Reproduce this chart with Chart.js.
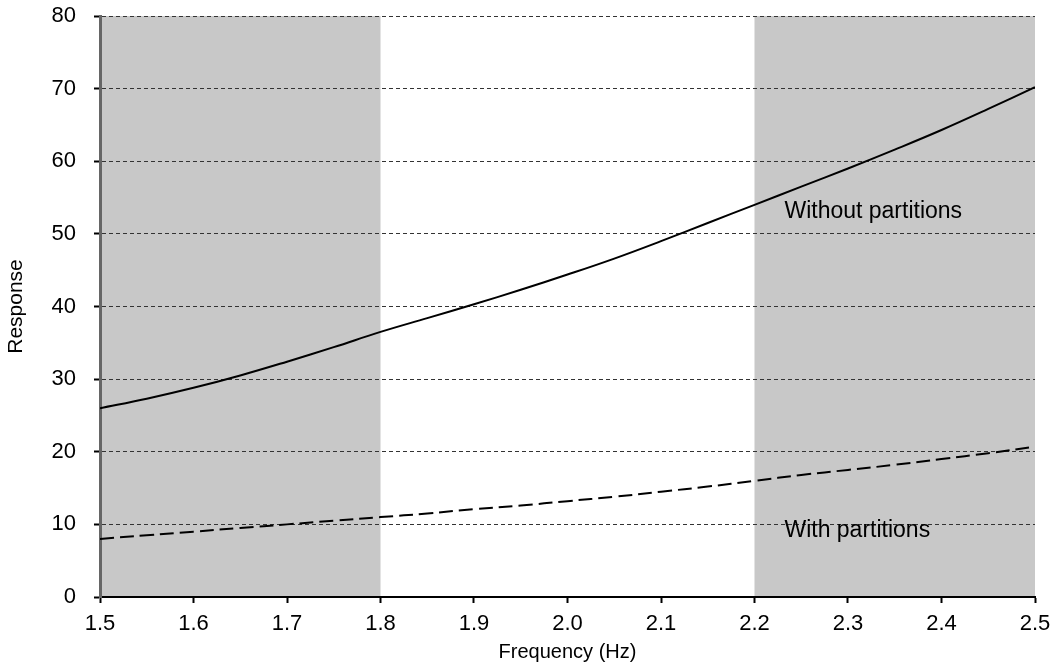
<!DOCTYPE html>
<html>
<head>
<meta charset="utf-8">
<script src="https://cdn.jsdelivr.net/npm/chart.js@4"></script>
<style>
  html, body { margin: 0; padding: 0; background: #fff; }
  #wrap { width: 1052px; height: 668px; }
</style>
</head>
<body>
<div id="wrap"><canvas id="chart" width="1052" height="668"></canvas></div>
<script>
const frequenze = [1.5, 1.55, 1.6, 1.65, 1.7, 1.75, 1.8, 1.85, 1.9, 1.95, 2.0, 2.05, 2.1, 2.15, 2.2, 2.25, 2.3, 2.35, 2.4, 2.45, 2.5];
const senzaPartizioni = [26.0, 27.3, 28.8, 30.5, 32.4, 34.4, 36.5, 38.4, 40.3, 42.3, 44.4, 46.6, 49.0, 51.5, 54.0, 56.5, 59.0, 61.6, 64.3, 67.2, 70.2];
const conPartizioni = [8.0, 8.5, 9.0, 9.5, 10.0, 10.5, 11.0, 11.5, 12.1, 12.6, 13.2, 13.8, 14.5, 15.2, 16.0, 16.8, 17.5, 18.2, 19.0, 19.8, 20.7];
const fasceGrigie = [[1.5, 1.8], [2.2, 2.5]];
const etichette = [
  { testo: 'Without partitions', x: 2.232, y: 53.0 },
  { testo: 'With partitions', x: 2.232, y: 9.1 },
];

const FONT = 'Arial, "Liberation Sans", sans-serif';

// fasce grigie dietro a griglia e curve
const fascePlugin = {
  id: 'fasce',
  beforeDraw(chart) {
    const { ctx, chartArea, scales } = chart;
    ctx.save();
    ctx.fillStyle = '#c8c8c8';
    fasceGrigie.forEach(([a, b]) => {
      const x1 = scales.x.getPixelForValue(a);
      const x2 = scales.x.getPixelForValue(b);
      ctx.fillRect(x1, chartArea.top, x2 - x1, chartArea.bottom - chartArea.top);
    });
    ctx.restore();
  },
  afterDatasetsDraw(chart) {
    const { ctx, scales } = chart;
    ctx.save();
    ctx.fillStyle = '#000';
    ctx.font = '23px ' + FONT;
    ctx.textAlign = 'left';
    ctx.textBaseline = 'middle';
    etichette.forEach((e) => {
      ctx.fillText(e.testo, scales.x.getPixelForValue(e.x), scales.y.getPixelForValue(e.y));
    });
    ctx.restore();
  },
};

new Chart(document.getElementById('chart'), {
  type: 'line',
  data: {
    labels: frequenze,
    datasets: [
      {
        label: 'Without partitions',
        data: frequenze.map((f, i) => ({ x: f, y: senzaPartizioni[i] })),
        borderColor: '#000',
        borderWidth: 2,
        pointRadius: 0,
        tension: 0.4,
        fill: false,
      },
      {
        label: 'With partitions',
        data: frequenze.map((f, i) => ({ x: f, y: conPartizioni[i] })),
        borderColor: '#000',
        borderWidth: 2,
        borderDash: [14, 6],
        pointRadius: 0,
        tension: 0.4,
        fill: false,
      },
    ],
  },
  options: {
    responsive: false,
    animation: false,
    layout: { padding: { top: 16, right: 17, left: 0, bottom: 0 } },
    plugins: { legend: { display: false }, tooltip: { enabled: false } },
    scales: {
      x: {
        type: 'linear',
        min: 1.5,
        max: 2.5,
        afterFit(scale) {
          scale.height = 71;
          scale.paddingLeft = 0;
          scale.paddingRight = 0;
        },
        ticks: {
          stepSize: 0.1,
          color: '#000',
          font: { family: FONT, size: 22 },
          padding: 8,
          maxRotation: 0,
          callback: (v) => Number(v).toFixed(1),
        },
        grid: { drawOnChartArea: false, tickLength: 6, tickColor: '#000', tickWidth: 2 },
        border: { color: '#000', width: 2 },
        title: { display: true, text: 'Frequency (Hz)', color: '#000', font: { family: FONT, size: 20 }, padding: { top: 0, bottom: 4 } },
      },
      y: {
        min: 0,
        max: 80,
        afterFit(scale) {
          scale.width = 100;
          scale.paddingTop = 0;
          scale.paddingBottom = 0;
        },
        ticks: {
          stepSize: 10,
          color: '#000',
          font: { family: FONT, size: 22 },
          padding: 18,
        },
        grid: {
          color: '#333',
          lineWidth: 1,
          tickBorderDash: [],
          tickLength: 6,
          tickColor: '#000',
          tickWidth: 2,
        },
        border: { color: '#666', width: 3, dash: [4, 3] },
        title: { display: true, text: 'Response', color: '#000', font: { family: FONT, size: 21 }, padding: { top: 4, bottom: 0 } },
      },
    },
  },
  plugins: [fascePlugin],
});
</script>
</body>
</html>
